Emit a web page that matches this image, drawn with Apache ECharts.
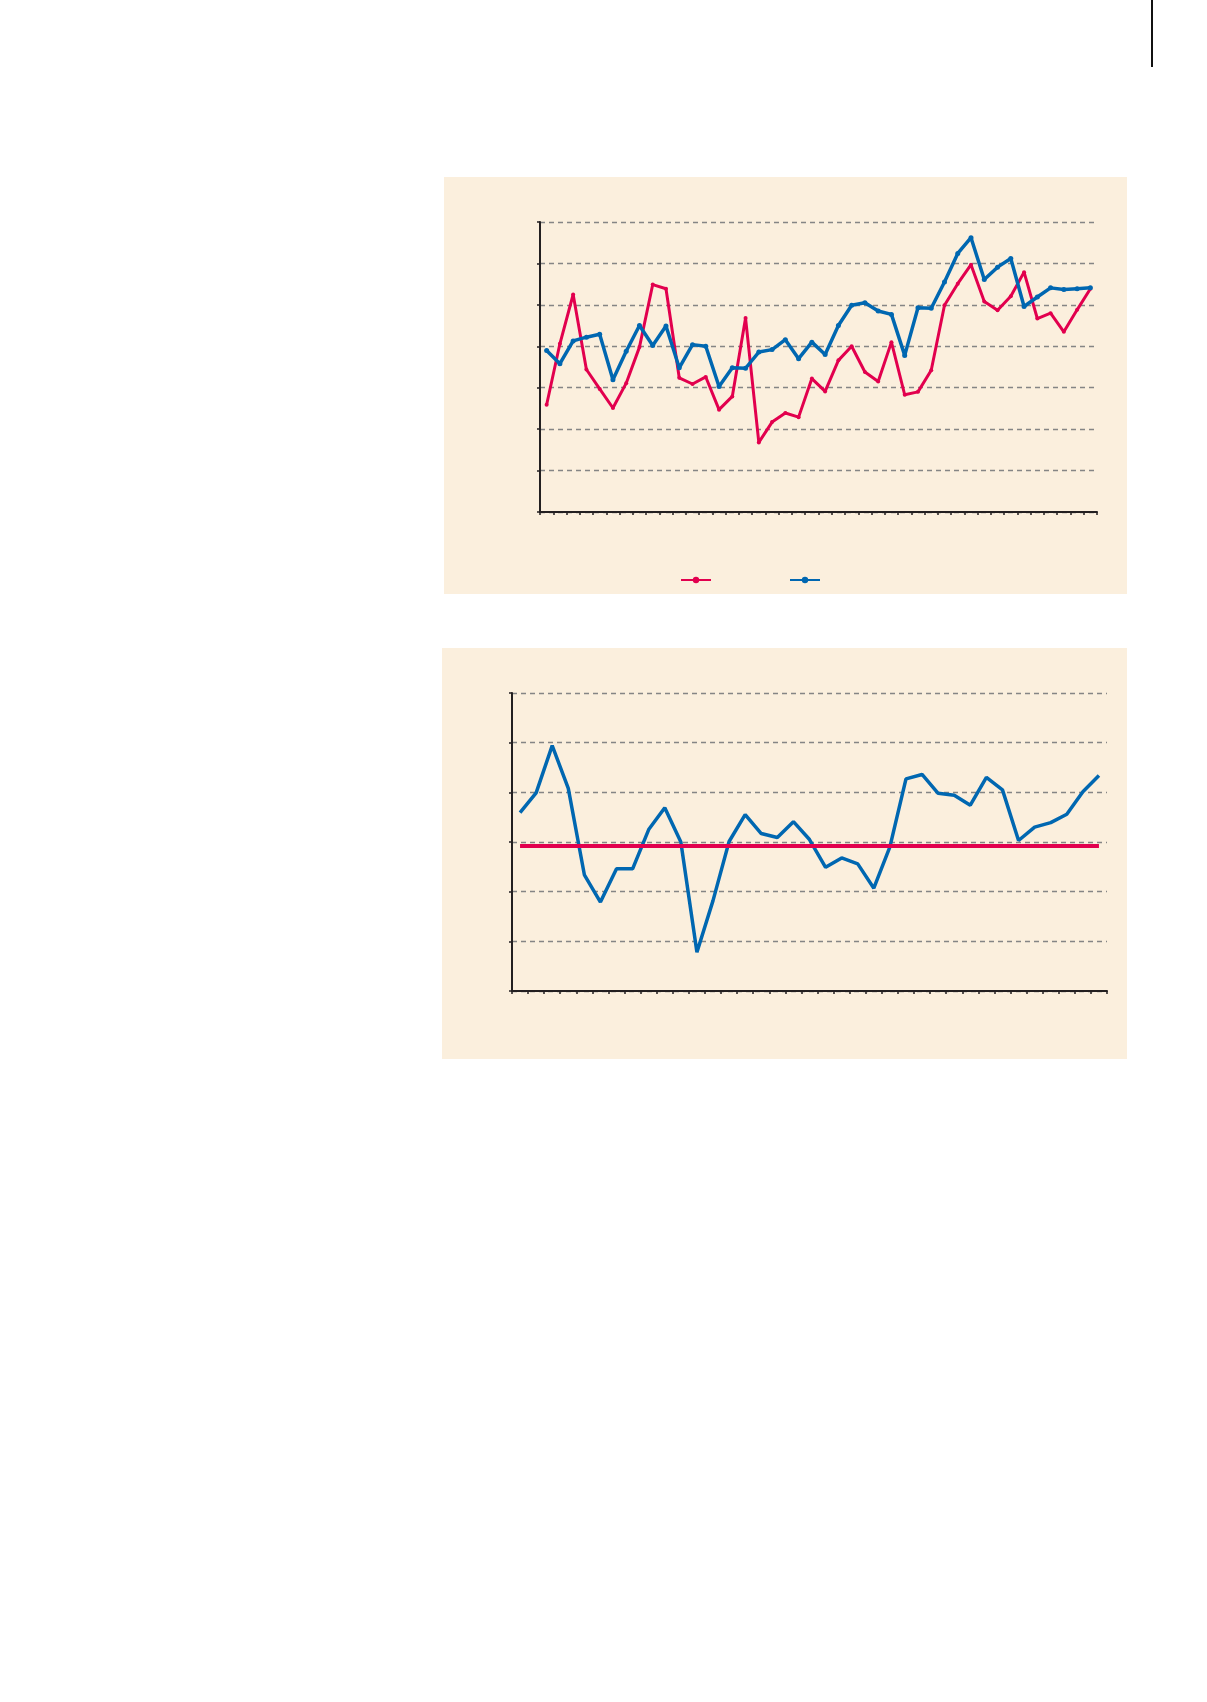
<!DOCTYPE html>
<html>
<head>
<meta charset="utf-8">
<script src="https://cdn.jsdelivr.net/npm/echarts@6/dist/echarts.min.js"></script>
<style>
html,body{margin:0;padding:0;background:#fff;}
#c{width:1207px;height:1702px;}
</style>
</head>
<body>
<div id="c"></div>
<script>
// Chart 1 data (42 periods)
const cats1 = Array.from({length: 42}, (_, i) => String(i + 1));
const seriesRed1 = [2.59,4.06,5.25,3.44,2.97,2.51,3.11,3.98,5.49,5.39,3.24,3.09,3.26,2.47,2.79,4.68,1.68,2.17,2.39,2.29,3.22,2.91,3.66,4.00,3.38,3.15,4.10,2.83,2.90,3.42,4.99,5.51,5.97,5.08,4.87,5.21,5.79,4.67,4.80,4.35,4.88,5.39];
const seriesBlue1 = [3.90,3.58,4.13,4.22,4.29,3.19,3.88,4.50,4.02,4.49,3.48,4.04,4.00,3.03,3.48,3.47,3.86,3.92,4.16,3.70,4.10,3.80,4.50,4.99,5.05,4.85,4.77,3.78,4.93,4.92,5.55,6.24,6.62,5.61,5.91,6.12,4.96,5.19,5.41,5.37,5.39,5.41];
// Chart 2 data (37 periods)
const cats2 = Array.from({length: 37}, (_, i) => String(i + 1));
const seriesBlue2 = [3.59,3.99,4.94,4.08,2.34,1.79,2.46,2.46,3.25,3.69,3.00,0.78,1.82,3.01,3.55,3.17,3.09,3.41,3.05,2.49,2.68,2.56,2.07,2.90,4.27,4.36,3.98,3.94,3.74,4.30,4.05,3.03,3.30,3.39,3.56,4.01,4.34];
const refLevel2 = 2.93;

const RED = '#E2004E';
const BLUE = '#0067B1';
const BG = '#FBEFDD';
const AX = '#231F20';

const chart = echarts.init(document.getElementById('c'), null, {renderer: 'canvas'});

function xAxisCfg(gridIndex, cats) {
  return {
    type: 'category', gridIndex, data: cats, boundaryGap: true,
    axisLine: {show: true, lineStyle: {color: AX, width: 2}},
    axisTick: {show: true, interval: 0, length: 3, lineStyle: {color: AX, width: 1.5}},
    axisLabel: {show: false},
    splitLine: {show: false}
  };
}
function yAxisCfg(gridIndex, max) {
  return {
    type: 'value', gridIndex, min: 0, max, interval: 1,
    axisLine: {show: true, lineStyle: {color: AX, width: 2}},
    axisTick: {show: true, length: 3, lineStyle: {color: AX, width: 1.5}},
    axisLabel: {show: false},
    splitLine: {show: true, lineStyle: {color: '#858585', width: 1.3, type: [5, 4]}}
  };
}

chart.setOption({
  animation: false,
  backgroundColor: '#fff',
  graphic: [
    {type: 'rect', z: -10, shape: {x: 444, y: 177, width: 683, height: 417}, style: {fill: BG}},
    {type: 'rect', z: -10, shape: {x: 442, y: 648, width: 685, height: 411}, style: {fill: BG}},
    {type: 'line', shape: {x1: 1152, y1: 0, x2: 1152, y2: 67}, style: {stroke: '#111', lineWidth: 2}}
  ],
  legend: {
    left: 675, top: 571, itemWidth: 30, itemHeight: 8, itemGap: 77,
    data: ['red1', 'blue1'],
    formatter: function () { return ''; },
    textStyle: {fontSize: 1}
  },
  grid: [
    {left: 540, right: 110, top: 222, bottom: 1190},
    {left: 512, right: 100, top: 693, bottom: 711}
  ],
  xAxis: [xAxisCfg(0, cats1), xAxisCfg(1, cats2)],
  yAxis: [yAxisCfg(0, 7), yAxisCfg(1, 6)],
  series: [
    {
      name: 'red1', type: 'line', xAxisIndex: 0, yAxisIndex: 0, data: seriesRed1,
      symbol: 'circle', symbolSize: 4, showSymbol: true,
      itemStyle: {color: RED}, lineStyle: {color: RED, width: 3}, z: 3
    },
    {
      name: 'blue1', type: 'line', xAxisIndex: 0, yAxisIndex: 0, data: seriesBlue1,
      symbol: 'circle', symbolSize: 5, showSymbol: true,
      itemStyle: {color: BLUE}, lineStyle: {color: BLUE, width: 3.5}, z: 4
    },
    {
      name: 'blue2', type: 'line', xAxisIndex: 1, yAxisIndex: 1, data: seriesBlue2,
      symbol: 'none', lineStyle: {color: BLUE, width: 3.5}, z: 3,
      markLine: {
        silent: true, symbol: 'none', label: {show: false},
        lineStyle: {color: RED, width: 4, type: 'solid'},
        data: [[{coord: ['1', refLevel2]}, {coord: ['37', refLevel2]}]]
      }
    }
  ]
});
</script>
</body>
</html>
